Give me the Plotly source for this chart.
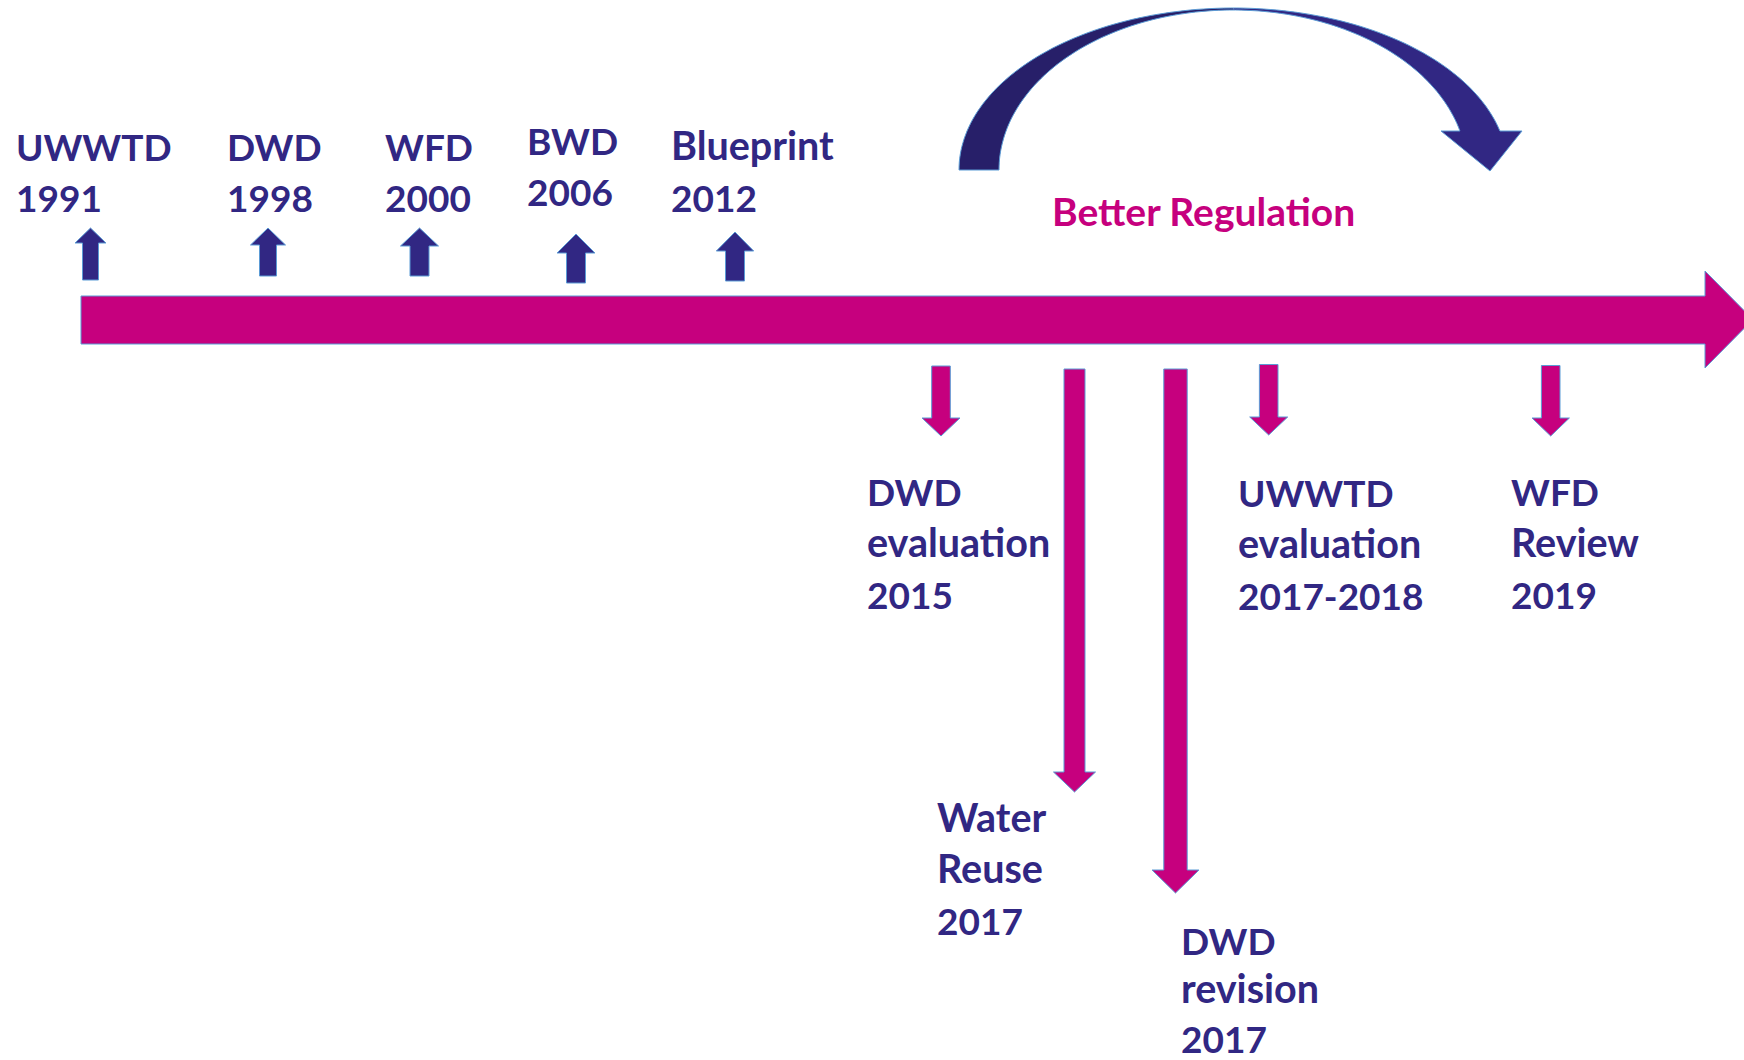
import numpy as np
import plotly.graph_objects as go

W, H = 1744, 1060
NAVY = '#312783'
NAVY_DARK = '#271F69'
MAGENTA = '#C6007E'
EDGE = '#5B9BD5'
FONT = 'Lato'

# ---- content ----
top_names = ['UWWTD', 'DWD', 'WFD', 'BWD', 'Blueprint']
top_years = ['1991', '1998', '2000', '2006', '2012']
bottom_names = ['DWD<br>evaluation', 'Water<br>Reuse', 'DWD<br>revision',
                'UWWTD<br>evaluation', 'WFD<br>Review']
bottom_years = ['2015', '2017', '2017', '2017-2018', '2019']
bracket_label = 'Better Regulation'

# ---- layout geometry (pixels) ----
top_arrow_x = [90.5, 268, 419.5, 576, 735]
top_arrow_tip = [228, 228, 228, 234, 232]
top_arrow_end = [280, 276, 276, 283, 281]
top_head_h = [15, 17, 18, 19, 19]
top_head_hw = [15.5, 17.5, 19, 19, 18.7]
top_shaft_hw = [8, 8.5, 9.5, 9.5, 9.5]
top_label_x = [14, 225, 383, 525, 669]
top_label_base = [160, 160, 160, 153.3, 159.3]

bot_arrow_x = [941, 1074.5, 1175.5, 1268.7, 1550.7]
bot_arrow_top = [366, 369, 369, 364.5, 365.5]
bot_arrow_tip = [436, 792, 893, 435, 436]
bot_head_h = [18, 20, 23, 18, 18]
bot_head_hw = [19, 21, 23.5, 19, 18.7]
bot_shaft_hw = [9.3, 10.5, 11.7, 9.3, 9.3]
bot_label_x = [865, 935, 1179, 1236, 1509]
bot_label_base = [505, 830.7, 953.3, 506, 505]
bot_line_gap = [51.3, 51.3, 49, 51.3, 51.3]
TOP_LINE_GAP = 51


def path(points):
    return 'M ' + ' L '.join(f'{x:.1f},{y:.1f}' for x, y in points) + ' Z'


shapes = []


def add_shape(pts, fill, line_color=EDGE, lw=1):
    shapes.append(dict(type='path', xref='x', yref='y', path=path(pts),
                       fillcolor=fill, line=dict(color=line_color, width=lw),
                       layer='above'))


# main timeline arrow
add_shape([(81, 296), (1705, 296), (1705, 271), (1753, 319.5),
           (1705, 368), (1705, 344), (81, 344)], MAGENTA)

# up arrows
for cx, tip, end, hh, hw, sw in zip(top_arrow_x, top_arrow_tip, top_arrow_end,
                                    top_head_h, top_head_hw, top_shaft_hw):
    b = tip + hh
    add_shape([(cx - sw, end), (cx - sw, b), (cx - hw, b), (cx, tip),
               (cx + hw, b), (cx + sw, b), (cx + sw, end)], NAVY)

# down arrows
for cx, top, tip, hh, hw, sw in zip(bot_arrow_x, bot_arrow_top, bot_arrow_tip,
                                    bot_head_h, bot_head_hw, bot_shaft_hw):
    b = tip - hh
    add_shape([(cx - sw, top), (cx + sw, top), (cx + sw, b), (cx + hw, b),
               (cx, tip), (cx - hw, b), (cx - sw, b)], MAGENTA)

# curved "Better Regulation" arrow
ocx, ocy, orx, ory = 1233.5, 170, 274.5, 162
icx, icy, irx, iry = 1233, 170, 234, 160
t_out_end = np.arcsin((ocy - 131) / ory)
t_in_end = np.arcsin((icy - 131) / iry)


def ell(cx, cy, rx, ry, t0, t1, n=60):
    t = np.linspace(t0, t1, n)
    return list(zip(cx + rx * np.cos(t), cy - ry * np.sin(t)))


head = [(1522, 131), (1490, 171), (1441, 131)]
left_half = ell(ocx, ocy, orx, ory, np.pi, np.pi / 2) + ell(icx, icy, irx, iry, np.pi / 2, np.pi)
right_half = (ell(ocx, ocy, orx, ory, np.pi / 2, t_out_end) + head
              + ell(icx, icy, irx, iry, t_in_end, np.pi / 2))
whole = (ell(ocx, ocy, orx, ory, np.pi, t_out_end, 120) + head
         + ell(icx, icy, irx, iry, t_in_end, np.pi, 120))
add_shape(left_half, NAVY_DARK, line_color='rgba(0,0,0,0)', lw=0)
add_shape(right_half, NAVY, line_color='rgba(0,0,0,0)', lw=0)
add_shape(whole, 'rgba(0,0,0,0)', EDGE, 1)

# ---- text ----
annotations = []


def line_size(s):
    # Lato caps/digits run wider than the original face; lowercase narrower
    return 39.5 if any(c.islower() for c in s) else 37


def add_line(x, base, text, color=NAVY, size=None):
    size = size or line_size(text)
    annotations.append(dict(x=x, y=base - (1 + 0.987 * size), xref='x', yref='y',
                            text=text, showarrow=False, xanchor='left', yanchor='top',
                            align='left',
                            font=dict(family=FONT, size=size, color=color, weight='bold')))


def add_block(x, base, lines, gap):
    for i, ln in enumerate(lines):
        add_line(x, base + i * gap, ln)


for name, yr, x, base in zip(top_names, top_years, top_label_x, top_label_base):
    add_block(x, base, name.split('<br>') + [yr], TOP_LINE_GAP)
for name, yr, x, base, gap in zip(bottom_names, bottom_years, bot_label_x,
                                  bot_label_base, bot_line_gap):
    add_block(x, base, name.split('<br>') + [yr], gap)
add_line(1050, 225, bracket_label, MAGENTA, 39)

fig = go.Figure()
fig.update_layout(
    width=W, height=H,
    margin=dict(l=0, r=0, t=0, b=0),
    paper_bgcolor='white', plot_bgcolor='white',
    xaxis=dict(range=[0, W], visible=False, fixedrange=True),
    yaxis=dict(range=[H, 0], visible=False, fixedrange=True),
    shapes=shapes, annotations=annotations,
    showlegend=False,
)
fig.write_html('out.html', config={'displayModeBar': False},
               post_script="document.body.style.margin='0';")
